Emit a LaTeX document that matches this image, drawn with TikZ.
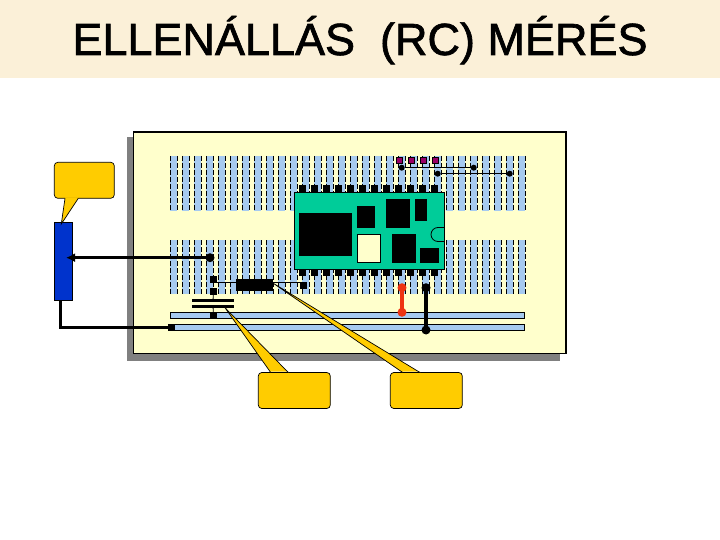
\documentclass[tikz,border=0pt]{standalone}
\usepackage{fontspec}
\setmainfont{Liberation Sans}
\newfontfamily\titlefont[FakeBold=1.5]{Liberation Sans}
\usepackage{tikz}
\usetikzlibrary{arrows.meta,calc}

\definecolor{bandtan}{HTML}{FBF0D8}
\definecolor{boardyellow}{HTML}{FFFFCC}
\definecolor{stripblue}{HTML}{A6CAF0}
\definecolor{chipgreen}{HTML}{00CC99}
\definecolor{callgold}{HTML}{FFCC00}
\definecolor{potblue}{HTML}{0033CC}
\definecolor{padpurple}{HTML}{990066}
\definecolor{jumpred}{HTML}{EE3311}

\tikzset{
  strip/.style={fill=stripblue, draw=none},
  stripedge/.style={line width=0.6pt, dash pattern=on 5pt off 2pt},
  rail/.style={rectangle, inner sep=0pt, outer sep=0pt, fill=stripblue, draw=black, line width=0.8pt, minimum width=354.5pt, minimum height=6pt},
  pin/.style={rectangle, inner sep=0pt, outer sep=0pt, fill=black, minimum width=7pt, minimum height=7pt},
  dot/.style={circle, inner sep=0pt, outer sep=0pt, fill=#1, minimum size=9pt},
  dot/.default=black,
  smalldot/.style={circle, inner sep=0pt, outer sep=0pt, fill=black, minimum size=6pt},
  wire/.style={line width=3pt},
  jumper/.style={line width=3.2pt},
  hookup/.style={line width=1.5pt},
  thinwire/.style={line width=0.8pt},
  callout/.style={rectangle, rounded corners=3.5pt, inner sep=0pt, outer sep=0pt, fill=callgold, draw=black, line width=0.7pt, minimum width=72pt, minimum height=36pt},
  chipbox/.style={rectangle, inner sep=0pt, outer sep=0pt, fill=black},
}

% one callout tail: tip, then the two points on the box edge
\newcommand{\calltail}[3]{
  \fill[callgold] (#2) -- (#1) -- (#3) -- ++(0,1pt) -- ($(#2)+(0,1pt)$) -- cycle;
  \draw[line width=0.7pt] (#2) -- (#1) -- (#3);
}

\begin{document}
\begin{tikzpicture}[x=1pt, y=-1pt]
  \useasboundingbox (0,0) rectangle (720,540);

  % title band
  \fill[bandtan] (0,0) rectangle (720,78);
  \node[font=\titlefont\fontsize{45}{52}\selectfont, anchor=base] (title) at (360,55) {ELLENÁLLÁS~~(RC) MÉRÉS};

  % board
  \fill[black!50] (127,137) rectangle (560,360.5);
  \draw[fill=boardyellow, line width=1.8pt] (133.5,132) rectangle (566,353.5);

  % breadboard strips
  \foreach \i in {0,...,29} {
    \foreach \ya/\yb in {156/211, 240/294} {
      \fill[strip] (170+12*\i,\ya) rectangle (177+12*\i,\yb);
      \draw[stripedge] (170+12*\i,\ya) -- (170+12*\i,\yb);
      \draw[stripedge] (177+12*\i,\ya) -- (177+12*\i,\yb);
    }
  }

  % rails
  \node[rail, anchor=west] (railA) at (170.3,315.3) {};
  \node[rail, anchor=west] (railB) at (170.3,327.3) {};

  % module
  \foreach \i in {0,...,11} {
    \node[pin] (pinT\i) at (302+12*\i,189) {};
    \node[pin] (pinB\i) at (302+12*\i,272.5) {};
  }
  \draw[fill=chipgreen, line width=0.8pt] (294.3,192) rectangle (444.7,269.3);
  \fill[chipbox] (299,213) rectangle (352,256);
  \fill[chipbox] (357,206) rectangle (375,228);
  \fill[chipbox] (386,199) rectangle (410,228);
  \fill[chipbox] (415,199) rectangle (427,221);
  \draw[fill=boardyellow, line width=0.8pt] (357.3,234.3) rectangle (380.7,262.7);
  \fill[chipbox] (392,234) rectangle (416,262.7);
  \fill[chipbox] (420,248) rectangle (439,262.7);
  \draw[line width=0.8pt] (444.7,227.5) -- (438,227.5) arc[start angle=90, end angle=270, radius=7pt] -- (444.7,241.5);

  % pads and jumpers top right
  \foreach \i in {0,...,3} {
    \node[rectangle, inner sep=0pt, fill=padpurple, draw=black, line width=0.3pt, minimum size=6pt] (pad\i) at (399.3+12*\i,159.7) {};
  }
  \node[smalldot] (jmpA) at (401.7,167.7) {};
  \node[smalldot] (jmpB) at (473.7,167.7) {};
  \node[smalldot] (jmpC) at (437.7,173.7) {};
  \node[smalldot] (jmpD) at (509.7,173.7) {};
  \draw[hookup] (jmpA) -- (jmpB);
  \draw[hookup] (jmpC) -- (jmpD);

  % potmeter and probe wires
  \node[rectangle, inner sep=0pt, outer sep=0pt, fill=potblue, draw=black, line width=0.8pt, minimum width=18.4pt, minimum height=78pt] (pot) at (63.5,261.3) {};
  \node[dot] (probe) at (210,257.7) {};
  \coordinate (wiper) at (66,257.7);
  \draw[wire, -{Latex[length=9pt, width=9pt]}] (probe) -- (wiper);
  \node[pin] (railpin) at (171.7,327.5) {};
  \draw[wire] (60,300.3) |- (railpin);

  % capacitor and resistor branch
  \node[pin] (capT) at (213.5,279.5) {};
  \node[pin] (capM) at (213.5,291.5) {};
  \node[pin] (capB) at (213.5,315.3) {};
  \node[chipbox, minimum width=42pt, minimum height=3pt] (plateA) at (213,300.5) {};
  \node[chipbox, minimum width=42pt, minimum height=3pt] (plateB) at (213,306) {};
  \draw[thinwire] (capM) -- (plateA);
  \draw[thinwire] (plateB) -- (capB);
  \node[chipbox, minimum width=36.7pt, minimum height=11.7pt] (res) at (254.3,284.8) {};
  \node[pin] (resend) at (303.5,285.5) {};
  \draw[thinwire] (capT.east |- 0,282.5) -- (resend.west |- 0,282.5);

  % jumpers at the bottom
  \node[dot=jumpred] (redT) at (402,287.7) {};
  \node[dot=jumpred] (redB) at (402,312.3) {};
  \draw[jumpred, jumper] (redT.center) -- (redB.center);
  \node[dot] (blkT) at (426,287.7) {};
  \node[dot] (blkB) at (426,330) {};
  \draw[jumper] (blkT.center) -- (blkB.center);

  % callouts
  \node[callout, minimum width=60pt] (callPot) at (84.3,180.3) {};
  \coordinate (tipPot) at (61.3,224);
  \calltail{tipPot}{65,198.3}{78.3,198.3}

  \node[callout] (callCap) at (294.3,390.5) {};
  \coordinate (tipCap) at (225,307.7);
  \calltail{tipCap}{270.7,372.5}{288.3,372.5}

  \node[callout] (callRes) at (426.3,390.5) {};
  \coordinate (tipRes) at (273.3,283.3);
  \calltail{tipRes}{402.7,372.5}{420,372.5}
\end{tikzpicture}
\end{document}
